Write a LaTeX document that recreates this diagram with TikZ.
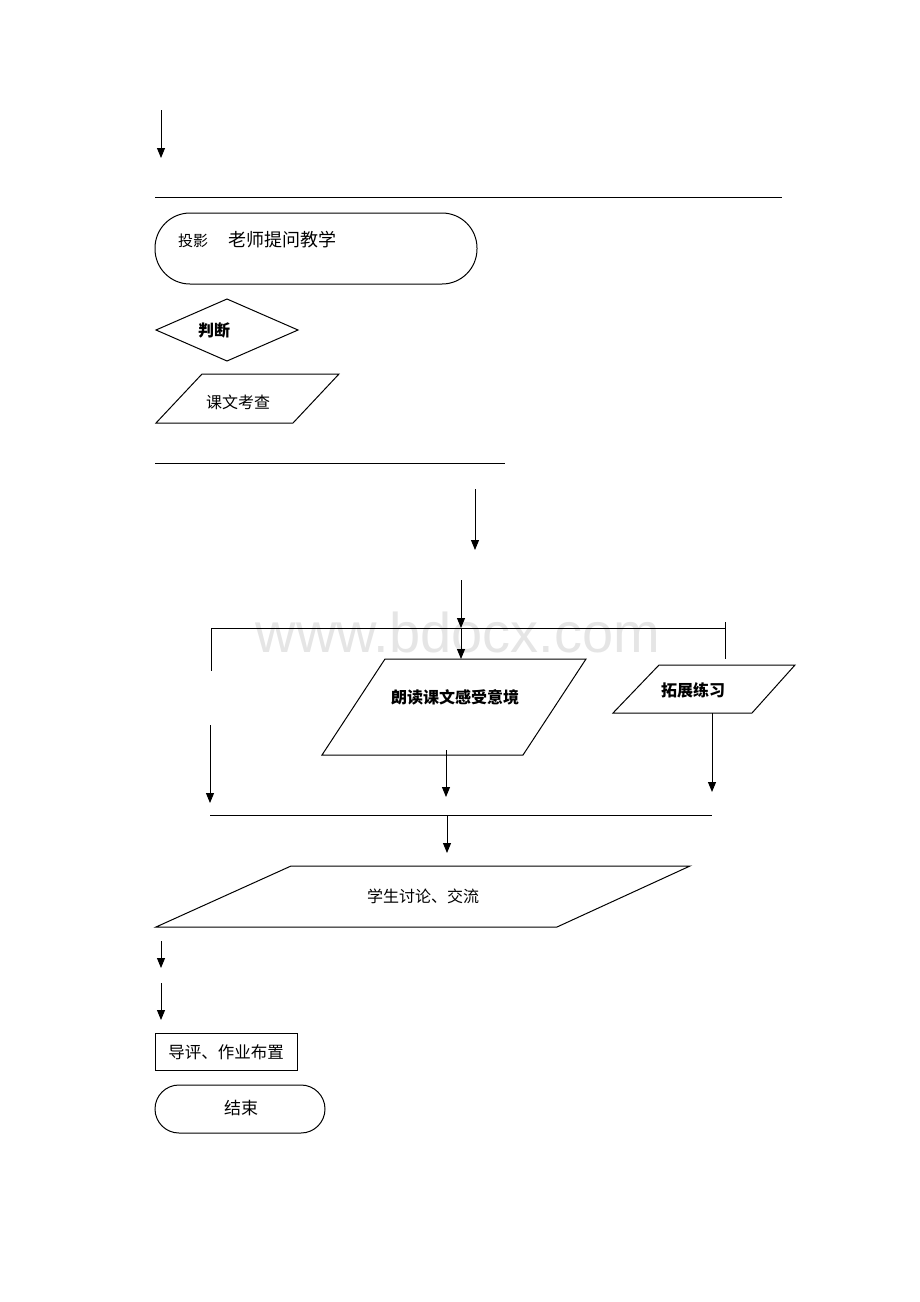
\documentclass[tikz,border=0pt]{standalone}
\usepackage{fontspec}
\newfontfamily\cjk{Noto Sans CJK SC}
\newfontfamily\wmfont{Liberation Sans}
\usetikzlibrary{arrows.meta}
\tikzset{
  ln/.style={line width=1pt, black},
  arr/.style={ln, -{Triangle[length=10pt,width=8pt]}},
  lbl/.style={font=\cjk\fontsize{16}{16}\selectfont, inner sep=0pt},
  blbl/.style={font=\cjk\bfseries\fontsize{16}{16}\selectfont, inner sep=0pt},
}
\begin{document}
\begin{tikzpicture}[x=1pt,y=-1pt]
\useasboundingbox (0,0) rectangle (920,1302);
% watermark
\node[font=\wmfont\fontsize{56}{56}\selectfont, text=black!10, inner sep=0pt] (wm) at (458,632) {www.bdocx.com};

% top arrow and line
\coordinate (a1s) at (161,110); \coordinate (a1e) at (161,158);
\draw[arr] (a1s) -- (a1e);
\coordinate (l1a) at (155,197); \coordinate (l1b) at (782,197);
\draw[ln] (l1a) -- (l1b);

% start stadium
\draw[ln, rounded corners=35] (155,213) rectangle (477,284);
\node[lbl, anchor=west] (start) at (178,240) {{\fontsize{15}{15}\selectfont 投影}\hspace{20pt}{\fontsize{18}{18}\selectfont 老师提问教学}};

% decision
\draw[ln] (156,330) -- (227,299) -- (298,330) -- (227,361) -- cycle;
\node[blbl] (judge) at (214,330) {判断};

% parallelogram 课文考查
\draw[ln] (156,423) -- (202,374) -- (339,374) -- (293,423) -- cycle;
\node[lbl] (check) at (238,402) {课文考查};

\coordinate (l2a) at (155,463); \coordinate (l2b) at (505,463);
\draw[ln] (l2a) -- (l2b);

\coordinate (a2s) at (475,489); \coordinate (a2e) at (475,550);
\draw[arr] (a2s) -- (a2e);

% branch bracket
\coordinate (a3s) at (461,580); \coordinate (a3m) at (461,628); \coordinate (a3e) at (461,659);
\draw[arr] (a3s) -- (a3m);
\draw[arr] (a3m) -- (a3e);
\coordinate (bl) at (211,628); \coordinate (br) at (725,628);
\draw[ln] (bl) -- (br);
\coordinate (bld) at (211,671);
\draw[ln] (bl) -- (bld);
\coordinate (brt) at (725,622); \coordinate (brd) at (725,659);
\draw[ln] (brt) -- (brd);

% parallelogram 朗读课文感受意境
\draw[ln] (322,755) -- (385,659) -- (586,659) -- (523,755) -- cycle;
\node[blbl] (read) at (455,697) {朗读课文感受意境};

% parallelogram 拓展练习
\draw[ln] (613,713) -- (659,665) -- (795,665) -- (752,713) -- cycle;
\node[blbl] (ext) at (693,690) {拓展练习};

% down arrows to merge line
\coordinate (al1) at (210,725); \coordinate (al2) at (210,803);
\draw[arr] (al1) -- (al2);
\coordinate (am1) at (446,750); \coordinate (am2) at (446,797);
\draw[arr] (am1) -- (am2);
\coordinate (ar1) at (712,713); \coordinate (ar2) at (712,792);
\draw[arr] (ar1) -- (ar2);
\coordinate (l3a) at (210,815); \coordinate (l3b) at (712,815);
\draw[ln] (l3a) -- (l3b);
\coordinate (a4s) at (447,815); \coordinate (a4e) at (447,853);
\draw[arr] (a4s) -- (a4e);

% big parallelogram
\draw[ln] (156,927) -- (291,866) -- (690,866) -- (557,927) -- cycle;
\node[lbl] (disc) at (423,896) {学生讨论、交流};

\coordinate (a5s) at (161,941); \coordinate (a5e) at (161,968);
\draw[arr] (a5s) -- (a5e);
\coordinate (a6s) at (161,983); \coordinate (a6e) at (161,1020);
\draw[arr] (a6s) -- (a6e);

% rectangle
\draw[ln] (155,1033) rectangle (297,1070);
\node[lbl, font=\cjk\fontsize{16.5}{16.5}\selectfont] (hw) at (226,1052) {导评、作业布置};

% end stadium
\draw[ln, rounded corners=24] (155,1085) rectangle (325,1133);
\node[lbl, font=\cjk\fontsize{17}{17}\selectfont] (end) at (241,1108) {结束};
\end{tikzpicture}
\end{document}
